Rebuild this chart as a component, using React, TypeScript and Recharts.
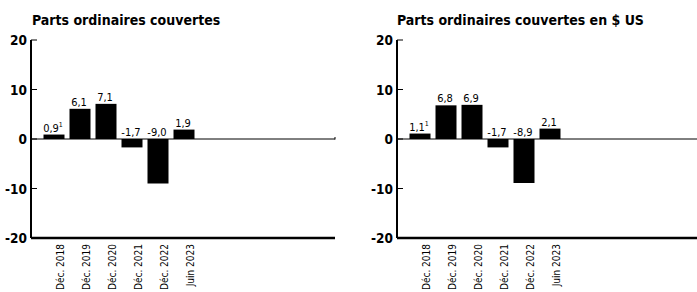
import React from 'react';
import { BarChart, Bar, XAxis, YAxis, ReferenceLine, LabelList } from 'recharts';

const categories = ['Déc. 2018', 'Déc. 2019', 'Déc. 2020', 'Déc. 2021', 'Déc. 2022', 'Juin 2023'];
const leftValues = [0.9, 6.1, 7.1, -1.7, -9.0, 1.9];
const rightValues = [1.1, 6.8, 6.9, -1.7, -8.9, 2.1];
const leftNotes = ['1', '', '', '', '', ''];
const rightNotes = ['1', '', '', '', '', ''];
const yTicks = [-20, -10, 0, 10, 20];
const leftTitle = 'Parts ordinaires couvertes';
const rightTitle = 'Parts ordinaires couvertes en $ US';

const FONT = '"DejaVu Sans Condensed", "Liberation Sans Narrow", "Roboto", sans-serif';

const fmt = (v: number) => v.toFixed(1).replace('.', ',');

const YTick = (props: any) => {
  const { x, y, payload } = props;
  return (
    <g>
      <text x={x} y={y} dy={5} textAnchor="end" fontFamily={FONT} fontSize={13.5} fontWeight={600} fill="#000">
        {payload.value}
      </text>
      <line x1={x + 4} x2={x + 10} y1={y} y2={y} stroke="#000" strokeWidth={1} />
    </g>
  );
};

const XTick = (props: any) => {
  const { x, y, payload } = props;
  return (
    <text
      transform={`translate(${x + 10},${y + 6}) rotate(-90)`}
      textAnchor="end"
      fontFamily={FONT}
      fontSize={10}
      fill="#000"
    >
      {payload.value}
    </text>
  );
};

const makeLabel = (notes: string[]) => (props: any) => {
  const { x, y, width, height, value, index } = props;
  const top = Math.min(Number(y), Number(y) + Number(height));
  const note = notes[index];
  return (
    <text x={Number(x) + Number(width) / 2 - 1} y={top - 3} textAnchor="middle" fontFamily={FONT} fontSize={11} fill="#000">
      {fmt(Number(value))}
      {note ? (
        <tspan dy={-5} fontSize={7}>
          {note}
        </tspan>
      ) : null}
    </text>
  );
};

const zeroShape = (withTick: boolean) => (props: any) => {
  const { x1, y1, x2, y2 } = props;
  return (
    <g>
      <line x1={x1} y1={y1} x2={x2} y2={y2} stroke="#000" strokeWidth={1} />
      {withTick ? <line x1={x2} y1={y2 + 0.5} x2={x2} y2={y2 - 2} stroke="#000" strokeWidth={1} /> : null}
    </g>
  );
};

const Panel = ({
  values,
  notes,
  width,
  marginRight,
  padRight,
  withTick,
}: {
  values: number[];
  notes: string[];
  width: number;
  marginRight: number;
  padRight: number;
  withTick: boolean;
}) => {
  const data = categories.map((c, i) => ({ cat: c, value: values[i] }));
  return (
    <BarChart width={width} height={292} data={data} margin={{ top: 40, right: marginRight, bottom: 0, left: 0 }}>
      <YAxis
        type="number"
        domain={[-20, 20]}
        ticks={yTicks}
        width={31}
        tickSize={0}
        tickMargin={4}
        tickLine={false}
        axisLine={{ stroke: '#000', strokeWidth: 2 }}
        tick={<YTick />}
        interval={0}
      />
      <XAxis
        dataKey="cat"
        height={54}
        interval={0}
        tickSize={0}
        tickMargin={0}
        tickLine={false}
        padding={{ left: 9.5, right: padRight }}
        axisLine={{ stroke: '#000', strokeWidth: 2.5 }}
        tick={<XTick />}
      />
      <ReferenceLine y={0} stroke="#000" shape={zeroShape(withTick)} />
      <Bar dataKey="value" fill="#000" barSize={21} isAnimationActive={false}>
        <LabelList dataKey="value" content={makeLabel(notes)} />
      </Bar>
    </BarChart>
  );
};

const titleStyle: React.CSSProperties = {
  position: 'absolute',
  top: 12,
  fontFamily: FONT,
  fontSize: 14,
  fontWeight: 600,
  lineHeight: '16px',
  color: '#000',
  whiteSpace: 'nowrap',
};

export default function App() {
  return (
    <div style={{ position: 'absolute', left: 0, top: 0, width: 697, height: 292, background: '#fff', overflow: 'hidden' }}>
      <div style={{ ...titleStyle, left: 32 }}>{leftTitle}</div>
      <div style={{ ...titleStyle, left: 397 }}>{rightTitle}</div>
      <div style={{ position: 'absolute', left: 0, top: 0 }}>
        <Panel values={leftValues} notes={leftNotes} width={345} marginRight={10} padRight={138.5} withTick={true} />
      </div>
      <div style={{ position: 'absolute', left: 366, top: 0 }}>
        <Panel values={rightValues} notes={rightNotes} width={331} marginRight={0} padRight={134.5} withTick={false} />
      </div>
    </div>
  );
}
